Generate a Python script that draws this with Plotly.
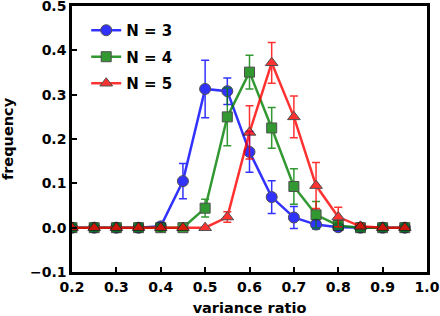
import plotly.graph_objects as go

x_vals = [0.2, 0.25, 0.3, 0.35, 0.4, 0.45, 0.5, 0.55, 0.6, 0.65, 0.7, 0.75, 0.8, 0.85, 0.9, 0.95]

n3_freq = [0, 0, 0, 0, 0.003, 0.105, 0.313, 0.308, 0.171, 0.069, 0.023, 0.007, 0.001, 0, 0, 0]
n3_err = [0, 0, 0, 0, 0.003, 0.04, 0.065, 0.03, 0.046, 0.037, 0.025, 0.01, 0.002, 0, 0, 0]

n4_freq = [0, 0, 0, 0, 0, 0, 0.044, 0.25, 0.351, 0.225, 0.093, 0.029, 0.005, 0, 0, 0]
n4_err = [0, 0, 0, 0, 0, 0, 0.02, 0.065, 0.038, 0.046, 0.04, 0.03, 0.008, 0, 0, 0]

n5_freq = [0, 0, 0, 0, 0, 0, 0, 0.024, 0.215, 0.372, 0.25, 0.095, 0.024, 0.003, 0, 0]
n5_err = [0, 0, 0, 0, 0, 0, 0, 0.012, 0.06, 0.046, 0.047, 0.052, 0.022, 0.006, 0, 0]

x_ticks = [0.2, 0.3, 0.4, 0.5, 0.6, 0.7, 0.8, 0.9, 1.0]
x_tick_labels = ["0.2", "0.3", "0.4", "0.5", "0.6", "0.7", "0.8", "0.9", "1.0"]
y_ticks = [-0.1, 0.0, 0.1, 0.2, 0.3, 0.4, 0.5]
y_tick_labels = ["\u22120.1", "0.0", "0.1", "0.2", "0.3", "0.4", "0.5"]

series = [
    ("N = 3", n3_freq, n3_err, "#0000ff", "circle", 11),
    ("N = 4", n4_freq, n4_err, "#008000", "square", 10),
    ("N = 5", n5_freq, n5_err, "#ff0000", "triangle-up", 11),
]

fig = go.Figure()
for name, y, err, color, symbol, size in series:
    fig.add_trace(go.Scatter(
        x=x_vals, y=y, name=name, legendgroup=name, mode="lines+markers",
        opacity=0.8,
        line=dict(color=color, width=2.5),
        marker=dict(symbol=symbol, size=size, color=color,
                    line=dict(color="#222222", width=1)),
        error_y=dict(type="data", array=err, visible=True,
                     color=color, thickness=1.5, width=4),
    ))

axis_common = dict(
    showline=True, linecolor="black", linewidth=2.5, mirror=True,
    ticks="inside", ticklen=5, tickwidth=1.5, tickcolor="black",
    showgrid=False, zeroline=False, automargin=False,
    ticklabeloverflow="allow",
    tickfont=dict(family="DejaVu Sans", size=14, color="black", weight="bold"),
)

fig.update_layout(
    width=440, height=316,
    margin=dict(l=72, r=13, t=6, b=44),
    paper_bgcolor="white", plot_bgcolor="white",
    font=dict(family="DejaVu Sans", size=14, color="black", weight="bold"),
    showlegend=True,
    legend=dict(x=0.04, y=0.97, xanchor="left", yanchor="top",
                bgcolor="rgba(0,0,0,0)", borderwidth=0,
                traceorder="grouped", tracegroupgap=4,
                font=dict(family="DejaVu Sans", size=15, color="black", weight="bold")),
    xaxis=dict(range=[0.2, 1.0], tickmode="array", tickvals=x_ticks, ticktext=x_tick_labels,
               title=dict(text="variance ratio",
                          font=dict(family="DejaVu Sans", size=14.5, weight="bold")),
               **axis_common),
    yaxis=dict(range=[-0.1, 0.5002], tickmode="array", tickvals=y_ticks, ticktext=y_tick_labels,
               title=dict(text="frequency",
                          font=dict(family="DejaVu Sans", size=14.5, weight="bold")),
               **axis_common),
)

fig.write_html("out.html",
               config={"displayModeBar": False},
               post_script="document.body.style.margin='0';document.body.style.overflow='hidden';")
